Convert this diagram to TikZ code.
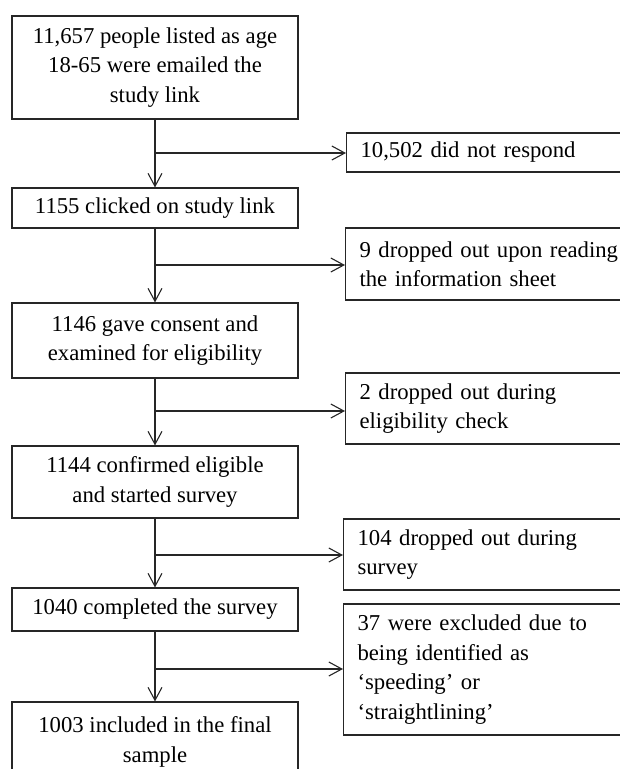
\documentclass[tikz,border=0pt]{standalone}
\usepackage{fontspec}
\setmainfont{Liberation Serif}
\usetikzlibrary{arrows.meta}
\tikzset{
  lbox/.style={draw=black!85, line width=1.1pt, minimum width=286pt, inner sep=0pt, align=center,
    font=\fontsize{22.7pt}{29.5pt}\selectfont},
  rbox/.style={draw=black!85, line width=1.1pt, minimum width=300pt, text width=272pt, inner xsep=14pt,
    inner ysep=0pt, align=left, anchor=west, font=\fontsize{22.7pt}{29.5pt}\selectfont},
  arr/.style={draw=black!85, line width=1.1pt, -{Straight Barb[length=13pt,width=14pt,line width=1.1pt]}},
}
\begin{document}
\begin{tikzpicture}[x=1pt,y=-1pt]
\useasboundingbox (0,0) rectangle (620,769);
\clip (0,0) rectangle (620,769);
% left column
\node[lbox, minimum height=103pt] (b1) at (155,67.5) {11,657 people listed as age\\18-65 were emailed the\\study link};
\node[lbox, minimum height=40pt] (b2) at (155,208) {1155 clicked on study link};
\node[lbox, minimum height=75pt] (b3) at (155,340.5) {1146 gave consent and\\examined for eligibility};
\node[lbox, minimum height=72pt] (b4) at (155,482) {1144 confirmed eligible\\and started survey};
\node[lbox, minimum height=43pt] (b5) at (155,609.5) {1040 completed the survey};
\node[lbox, minimum height=80pt] (b6) at (155,742) {1003 included in the final\\sample};
% right column
\node[rbox, minimum height=39pt] (r1) at (346,152.5) {10,502 did not respond};
\node[rbox, minimum height=72pt] (r2) at (345,264) {9 dropped out upon reading\\the information sheet};
\node[rbox, minimum height=71pt] (r3) at (345,408.5) {2 dropped out during\\eligibility check};
\node[rbox, minimum height=71pt] (r4) at (343,554.5) {104 dropped out during\\survey};
\node[rbox, minimum height=131pt] (r5) at (343,669.5) {37 were excluded due to\\being identified as\\‘speeding’ or\\‘straightlining’};
% junctions
\coordinate (j1) at (155,153);
\coordinate (j2) at (155,265);
\coordinate (j3) at (155,411);
\coordinate (j4) at (155,555);
\coordinate (j5) at (155,669);
% vertical arrows
\draw[arr] (b1.south) -- (b2.north);
\draw[arr] (b2.south) -- (b3.north);
\draw[arr] (b3.south) -- (b4.north);
\draw[arr] (b4.south) -- (b5.north);
\draw[arr] (b5.south) -- (b6.north);
% horizontal arrows
\draw[arr] (j1) -- (j1 -| r1.west);
\draw[arr] (j2) -- (j2 -| r2.west);
\draw[arr] (j3) -- (j3 -| r3.west);
\draw[arr] (j4) -- (j4 -| r4.west);
\draw[arr] (j5) -- (j5 -| r5.west);
\end{tikzpicture}
\end{document}
